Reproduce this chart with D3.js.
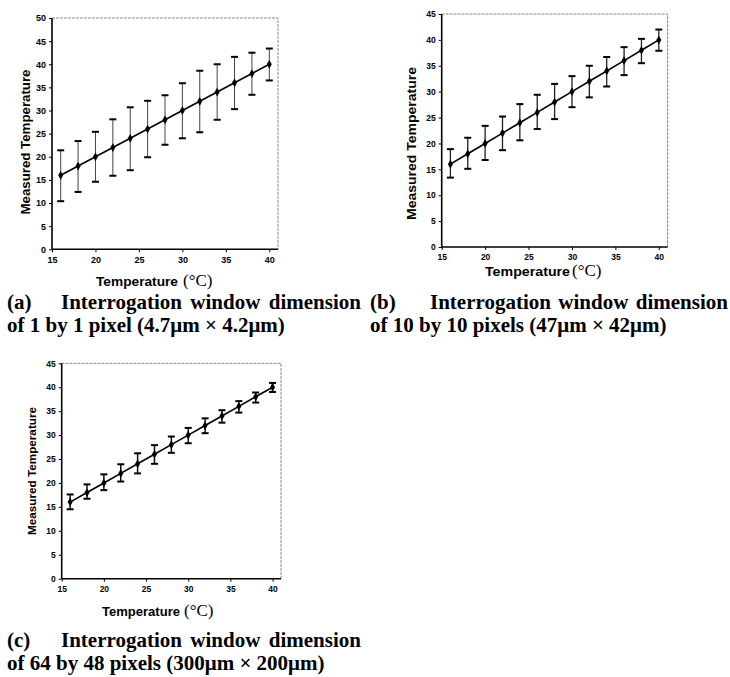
<!DOCTYPE html>
<html>
<head>
<meta charset="utf-8">
<script src="https://cdn.jsdelivr.net/npm/d3@7"></script>
<style>
  html, body { margin: 0; padding: 0; background: #fff; }
  svg { display: block; }
</style>
</head>
<body>
<svg id="fig" width="730" height="677"></svg>
<script>
// Actual (set) temperatures, °C
const actualTemps = [16, 18, 20, 22, 24, 26, 28, 30, 32, 34, 36, 38, 40];
// Mean measured temperature at each set point
const measuredMean = [16, 18, 20, 22, 24, 26, 28, 30, 32, 34, 36, 38, 40];

// Error-bar limits, 1 x 1 pixel window
const upperA = [21.4, 23.4, 25.4, 28.1, 30.7, 32.1, 33.3, 35.9, 38.6, 40.0, 41.6, 42.5, 43.4];
const lowerA = [10.4, 12.4, 14.6, 15.9, 17.1, 19.9, 22.6, 24.0, 25.3, 28.0, 30.3, 33.4, 36.5];
// Error-bar limits, 10 x 10 pixel window
const upperB = [18.9, 21.1, 23.4, 25.2, 27.6, 29.4, 31.5, 33.0, 35.0, 36.7, 38.6, 40.2, 42.0];
const lowerB = [13.4, 15.1, 16.8, 18.7, 20.6, 22.8, 24.7, 27.0, 28.9, 31.0, 33.2, 35.5, 37.9];
// Error-bar limits, 64 x 48 pixel window
const upperC = [17.6, 19.7, 21.8, 23.9, 26.2, 27.9, 29.7, 31.5, 33.5, 35.2, 37.1, 38.9, 40.9];
const lowerC = [14.5, 16.7, 18.5, 20.3, 22.0, 24.0, 26.3, 28.3, 30.4, 32.6, 34.7, 36.8, 39.0];

// Axis ticks
const xTicks = [15, 20, 25, 30, 35, 40];
const yTicksA = [0, 5, 10, 15, 20, 25, 30, 35, 40, 45, 50];
const yTicksBC = [0, 5, 10, 15, 20, 25, 30, 35, 40, 45];

// Caption text
const captionTags = ["(a)", "(b)", "(c)"];
const captionHead = "Interrogation window dimension";
const captionTails = [
  "of 1 by 1 pixel (4.7\u03BCm \u00D7 4.2\u03BCm)",
  "of 10 by 10 pixels (47\u03BCm \u00D7 42\u03BCm)",
  "of 64 by 48 pixels (300\u03BCm \u00D7 200\u03BCm)"
];

const svg = d3.select("#fig");
const sans = "'Liberation Sans', Arial, Helvetica, sans-serif";
const serif = "'Liberation Serif', 'Times New Roman', serif";

const panels = [
  { upper: upperA, lower: lowerA, yMax: 50, yTicks: yTicksA,
    left: 52, right: 278, top: 18, bottom: 249.3,
    tickFont: 9, ylabFont: 13, ylabX: 25, ylabLen: 145, ylabCY: 142,
    xlabY: 286, xlabX: 96, xlabLen: 82, xlabFont: 13.5, degFont: 17, degX: 183,
    barW: 1, barColor: "#444", capW: 2 },
  { upper: upperB, lower: lowerB, yMax: 45, yTicks: yTicksBC,
    left: 441.7, right: 667.5, top: 14, bottom: 247,
    tickFont: 8.5, ylabFont: 13.5, ylabX: 411.7, ylabLen: 153, ylabCY: 143.5,
    xlabY: 276, xlabX: 485, xlabLen: 85, xlabFont: 13.5, degFont: 17, degX: 572,
    barW: 1.3, barColor: "#222", capW: 2 },
  { upper: upperC, lower: lowerC, yMax: 45, yTicks: yTicksBC,
    left: 61.7, right: 281, top: 363.3, bottom: 578.7,
    tickFont: 8.5, ylabFont: 11.5, ylabX: 32, ylabLen: 128, ylabCY: 471,
    xlabY: 616, xlabX: 102, xlabLen: 78, xlabFont: 13, degFont: 17, degX: 184,
    barW: 1.5, barColor: "#111", capW: 2 }
];

panels.forEach((p) => {
  const x = d3.scaleLinear().domain([15, 41]).range([p.left, p.right]);
  const y = d3.scaleLinear().domain([0, p.yMax]).range([p.bottom, p.top]);
  const g = svg.append("g");

  // plot-area frame (top and right edges are light dotted lines)
  g.append("path")
    .attr("d", `M${p.left},${p.top}H${p.right}V${p.bottom}`)
    .attr("fill", "none")
    .attr("stroke", "#8a8a8a")
    .attr("stroke-width", 1)
    .attr("stroke-dasharray", "3,1");

  // y axis
  const yAxis = g.append("g")
    .attr("transform", `translate(${p.left},0)`)
    .call(d3.axisLeft(y).tickValues(p.yTicks).tickSize(3).tickPadding(3));
  // x axis
  const xAxis = g.append("g")
    .attr("transform", `translate(0,${p.bottom})`)
    .call(d3.axisBottom(x).tickValues(xTicks).tickSize(3).tickPadding(4));

  [yAxis, xAxis].forEach((ax) => {
    ax.select(".domain").attr("stroke", "#000").attr("stroke-width", 1.6);
    ax.selectAll(".tick line").attr("stroke", "#000").attr("stroke-width", 1);
    ax.selectAll(".tick text")
      .attr("fill", "#000")
      .style("font-family", sans)
      .style("font-weight", "bold")
      .style("font-size", p.tickFont + "px");
  });
  // axis lines run the full width / height of the plot area
  xAxis.select(".domain").attr("d", `M${p.left},0H${p.right}`);
  yAxis.select(".domain").attr("d", `M0,${p.bottom}V${p.top}`);

  // error bars
  const bars = g.append("g");
  actualTemps.forEach((t, i) => {
    const cx = x(t);
    bars.append("line")
      .attr("x1", cx).attr("x2", cx)
      .attr("y1", y(p.lower[i])).attr("y2", y(p.upper[i]))
      .attr("stroke", p.barColor).attr("stroke-width", p.barW);
    [p.lower[i], p.upper[i]].forEach((v) => {
      bars.append("line")
        .attr("x1", cx - 3.5).attr("x2", cx + 3.5)
        .attr("y1", y(v)).attr("y2", y(v))
        .attr("stroke", "#000").attr("stroke-width", p.capW);
    });
  });

  // mean line
  const line = d3.line().x((d, i) => x(actualTemps[i])).y((d) => y(d));
  g.append("path")
    .datum(measuredMean)
    .attr("d", line)
    .attr("fill", "none")
    .attr("stroke", "#000")
    .attr("stroke-width", 1.6);

  // markers
  g.selectAll(".pt")
    .data(measuredMean)
    .join("path")
    .attr("class", "pt")
    .attr("transform", (d, i) => `translate(${x(actualTemps[i])},${y(d)})`)
    .attr("d", d3.symbol().type(d3.symbolDiamond).size(22))
    .attr("fill", "#000");

  // y-axis title
  g.append("text")
    .attr("transform", `translate(${p.ylabX},${p.ylabCY}) rotate(-90)`)
    .attr("text-anchor", "middle")
    .attr("dominant-baseline", "central")
    .attr("textLength", p.ylabLen)
    .attr("lengthAdjust", "spacingAndGlyphs")
    .style("font-family", sans)
    .style("font-weight", "bold")
    .style("font-size", p.ylabFont + "px")
    .text("Measured Temperature");

  // x-axis title: sans word followed by serif unit
  g.append("text")
    .attr("x", p.xlabX).attr("y", p.xlabY)
    .attr("textLength", p.xlabLen)
    .attr("lengthAdjust", "spacingAndGlyphs")
    .style("font-family", sans)
    .style("font-weight", "bold")
    .style("font-size", p.xlabFont + "px")
    .text("Temperature");
  g.append("text")
    .attr("x", p.degX).attr("y", p.xlabY)
    .style("font-family", serif)
    .style("font-size", p.degFont + "px")
    .text("(\u00B0C)");
});

// captions: first line spread across the column, second line left aligned
const captionPos = [
  { x: 7, head: 61, end: 361, y: 309 },
  { x: 370, head: 430, end: 728, y: 309 },
  { x: 7, head: 61, end: 361, y: 647 }
];
captionPos.forEach((c, k) => {
  const cg = svg.append("g")
    .style("font-family", serif)
    .style("font-weight", "bold")
    .style("font-size", "21px")
    .attr("fill", "#000");
  cg.append("text").attr("x", c.x).attr("y", c.y).text(captionTags[k]);
  const words = captionHead.split(" ");
  const nodes = words.map((w) => cg.append("text").attr("y", c.y).text(w));
  const widths = nodes.map((n) => n.node().getComputedTextLength());
  const gap = Math.max(3, (c.end - c.head - d3.sum(widths)) / (words.length - 1));
  let cx = c.head;
  nodes.forEach((n, i) => { n.attr("x", cx); cx += widths[i] + gap; });
  cg.append("text").attr("x", c.x).attr("y", c.y + 23).text(captionTails[k]);
});
</script>
</body>
</html>
